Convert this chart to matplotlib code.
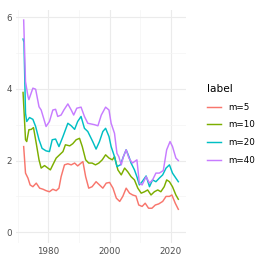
import matplotlib
matplotlib.use("Agg")
import matplotlib.pyplot as plt

# values (year, value)
labels = ["m=5", "m=10", "m=20", "m=40"]
colors = ["#F8766D", "#7CAE00", "#00BFC4", "#C77CFF"]

years_m5 = [1972.0, 1972.6, 1973.4, 1974.1, 1975.0, 1976.1, 1977.2, 1978.3, 1979.3, 1980.4,
            1981.5, 1982.6, 1983.5, 1984.2, 1985.3, 1986.4, 1987.5, 1988.6, 1989.6, 1990.7,
            1991.3, 1992.2, 1993.2, 1994.3, 1995.6, 1996.7, 1997.8, 1998.9, 2000.0, 2001.1,
            2002.2, 2003.3, 2004.3, 2005.4, 2006.5, 2007.5, 2008.6, 2009.5, 2010.6, 2011.6,
            2012.7, 2013.8, 2014.9, 2016.0, 2017.3, 2018.4, 2019.5, 2020.3, 2021.4, 2022.4]
vals_m5 = [2.39, 1.65, 1.51, 1.32, 1.27, 1.37, 1.23, 1.20, 1.16, 1.13,
           1.20, 1.16, 1.23, 1.55, 1.88, 1.91, 1.88, 1.93, 1.85, 1.93,
           1.97, 1.55, 1.23, 1.27, 1.41, 1.32, 1.23, 1.37, 1.39, 1.23,
           0.95, 0.86, 1.00, 1.23, 1.09, 1.04, 1.01, 0.76, 0.72, 0.81,
           0.67, 0.67, 0.76, 0.79, 0.86, 1.00, 1.00, 1.04, 0.81, 0.64]

years_m10 = [1971.8, 1972.6, 1973.0, 1973.7, 1974.5, 1975.2, 1976.1, 1977.0, 1977.7, 1978.8,
             1979.9, 1980.7, 1981.5, 1982.6, 1983.7, 1984.8, 1985.6, 1987.0, 1988.0, 1989.1,
             1990.2, 1991.1, 1992.2, 1993.2, 1994.3, 1995.4, 1996.5, 1997.6, 1998.7, 1999.8,
             2000.9, 2001.6, 2002.7, 2003.8, 2004.9, 2005.9, 2007.0, 2008.1, 2009.2, 2010.3,
             2011.4, 2012.4, 2013.5, 2014.6, 2015.7, 2016.7, 2017.8, 2018.6, 2019.5, 2020.5,
             2021.6, 2022.4]
vals_m10 = [3.90, 2.58, 2.53, 2.86, 2.87, 2.92, 2.48, 2.02, 1.79, 1.86,
            1.79, 1.74, 1.88, 2.07, 2.16, 2.25, 2.44, 2.41, 2.47, 2.58,
            2.62, 2.39, 2.02, 1.93, 1.93, 1.88, 1.93, 2.02, 2.16, 2.07,
            2.02, 2.11, 1.74, 1.60, 1.79, 1.69, 1.55, 1.46, 1.23, 1.09,
            1.13, 1.18, 1.04, 1.13, 1.18, 1.13, 1.27, 1.46, 1.41, 1.27,
            1.04, 0.92]

years_m20 = [1971.8, 1972.1, 1972.6, 1973.0, 1973.9, 1975.0, 1975.9, 1977.0, 1978.0, 1979.3,
             1980.4, 1981.3, 1982.4, 1983.5, 1984.8, 1986.4, 1987.5, 1988.6, 1989.6, 1990.7,
             1991.8, 1992.9, 1993.7, 1994.5, 1995.6, 1996.7, 1997.8, 1998.7, 1999.8, 2000.5,
             2001.6, 2002.4, 2003.5, 2004.5, 2005.4, 2006.3, 2007.0, 2008.1, 2008.9, 2009.7,
             2010.6, 2011.9, 2013.0, 2014.0, 2015.1, 2016.2, 2017.3, 2018.4, 2019.5, 2020.5,
             2021.6, 2022.4]
vals_m20 = [5.39, 5.30, 3.32, 3.09, 3.20, 3.15, 2.95, 2.58, 2.34, 2.27,
            2.25, 2.58, 2.60, 2.39, 2.67, 3.04, 2.97, 2.87, 3.09, 3.23,
            2.90, 2.81, 2.67, 2.53, 2.32, 2.53, 2.81, 2.90, 2.67, 2.39,
            2.11, 1.83, 1.88, 2.11, 2.30, 2.11, 1.93, 1.74, 1.55, 1.32,
            1.41, 1.57, 1.27, 1.46, 1.41, 1.51, 1.60, 1.79, 1.88, 1.65,
            1.51, 1.41]

years_m40 = [1972.0, 1972.6, 1973.4, 1973.7, 1975.0, 1975.9, 1977.0, 1977.7, 1979.3, 1980.4,
             1981.5, 1982.4, 1983.1, 1984.2, 1985.1, 1986.4, 1987.5, 1988.3, 1989.3, 1990.7,
             1991.8, 1992.9, 1994.0, 1995.1, 1996.2, 1997.3, 1998.7, 1999.8, 2000.5, 2001.6,
             2002.4, 2003.0, 2003.8, 2004.5, 2005.4, 2006.3, 2007.4, 2008.1, 2008.9, 2009.7,
             2010.6, 2011.9, 2013.0, 2014.0, 2015.1, 2016.2, 2017.5, 2018.6, 2019.7, 2020.5,
             2021.6, 2022.4]
vals_m40 = [5.92, 4.20, 3.79, 3.70, 4.02, 3.99, 3.50, 3.41, 2.95, 3.09,
            3.41, 3.43, 3.23, 3.27, 3.41, 3.58, 3.41, 3.27, 3.46, 3.49,
            3.23, 3.04, 3.02, 3.00, 2.97, 3.27, 3.49, 3.41, 3.04, 2.76,
            2.20, 2.11, 1.88, 2.11, 2.30, 2.07, 1.93, 1.97, 2.02, 1.37,
            1.32, 1.55, 1.37, 1.46, 1.65, 1.65, 1.72, 2.30, 2.53, 2.39,
            2.07, 2.00]

series = [(years_m5, vals_m5), (years_m10, vals_m10),
          (years_m20, vals_m20), (years_m40, vals_m40)]

W, H = 263, 263
fig = plt.figure(figsize=(W / 100, H / 100), dpi=100)
ax = fig.add_axes([16 / W, 1 - 243 / H, 170 / W, 233 / H])

handles = []
for (x, y), lab, col in zip(series, labels, colors):
    h, = ax.plot(x, y, color=col, lw=1.05, label=lab, solid_joinstyle="round")
    handles.append(h)

ax.set_xlim(1969.5, 2024.9)
ax.set_ylim(-0.3, 6.2)
ax.set_xticks([1980, 2000, 2020])
ax.set_xticks([1970, 1990, 2010], minor=True)
ax.set_yticks([0, 2, 4, 6])
ax.set_yticks([1, 3, 5], minor=True)
ax.grid(True, which="major", color="#EBEBEB", lw=0.8)
ax.grid(True, which="minor", color="#F4F4F4", lw=0.5)
ax.set_axisbelow(True)
for s in ax.spines.values():
    s.set_visible(False)
ax.tick_params(which="both", length=0, labelsize=6.3, labelcolor="#4D4D4D", pad=3)

leg = fig.legend(handles=handles, labels=labels, title="label", loc="upper left",
                 bbox_to_anchor=(199 / W, 1 - 76 / H), frameon=False,
                 fontsize=6.3, title_fontsize=7.6, handlelength=1.6,
                 handletextpad=0.8, labelspacing=1.0, alignment="left")

fig.savefig("out.png", dpi=100)
